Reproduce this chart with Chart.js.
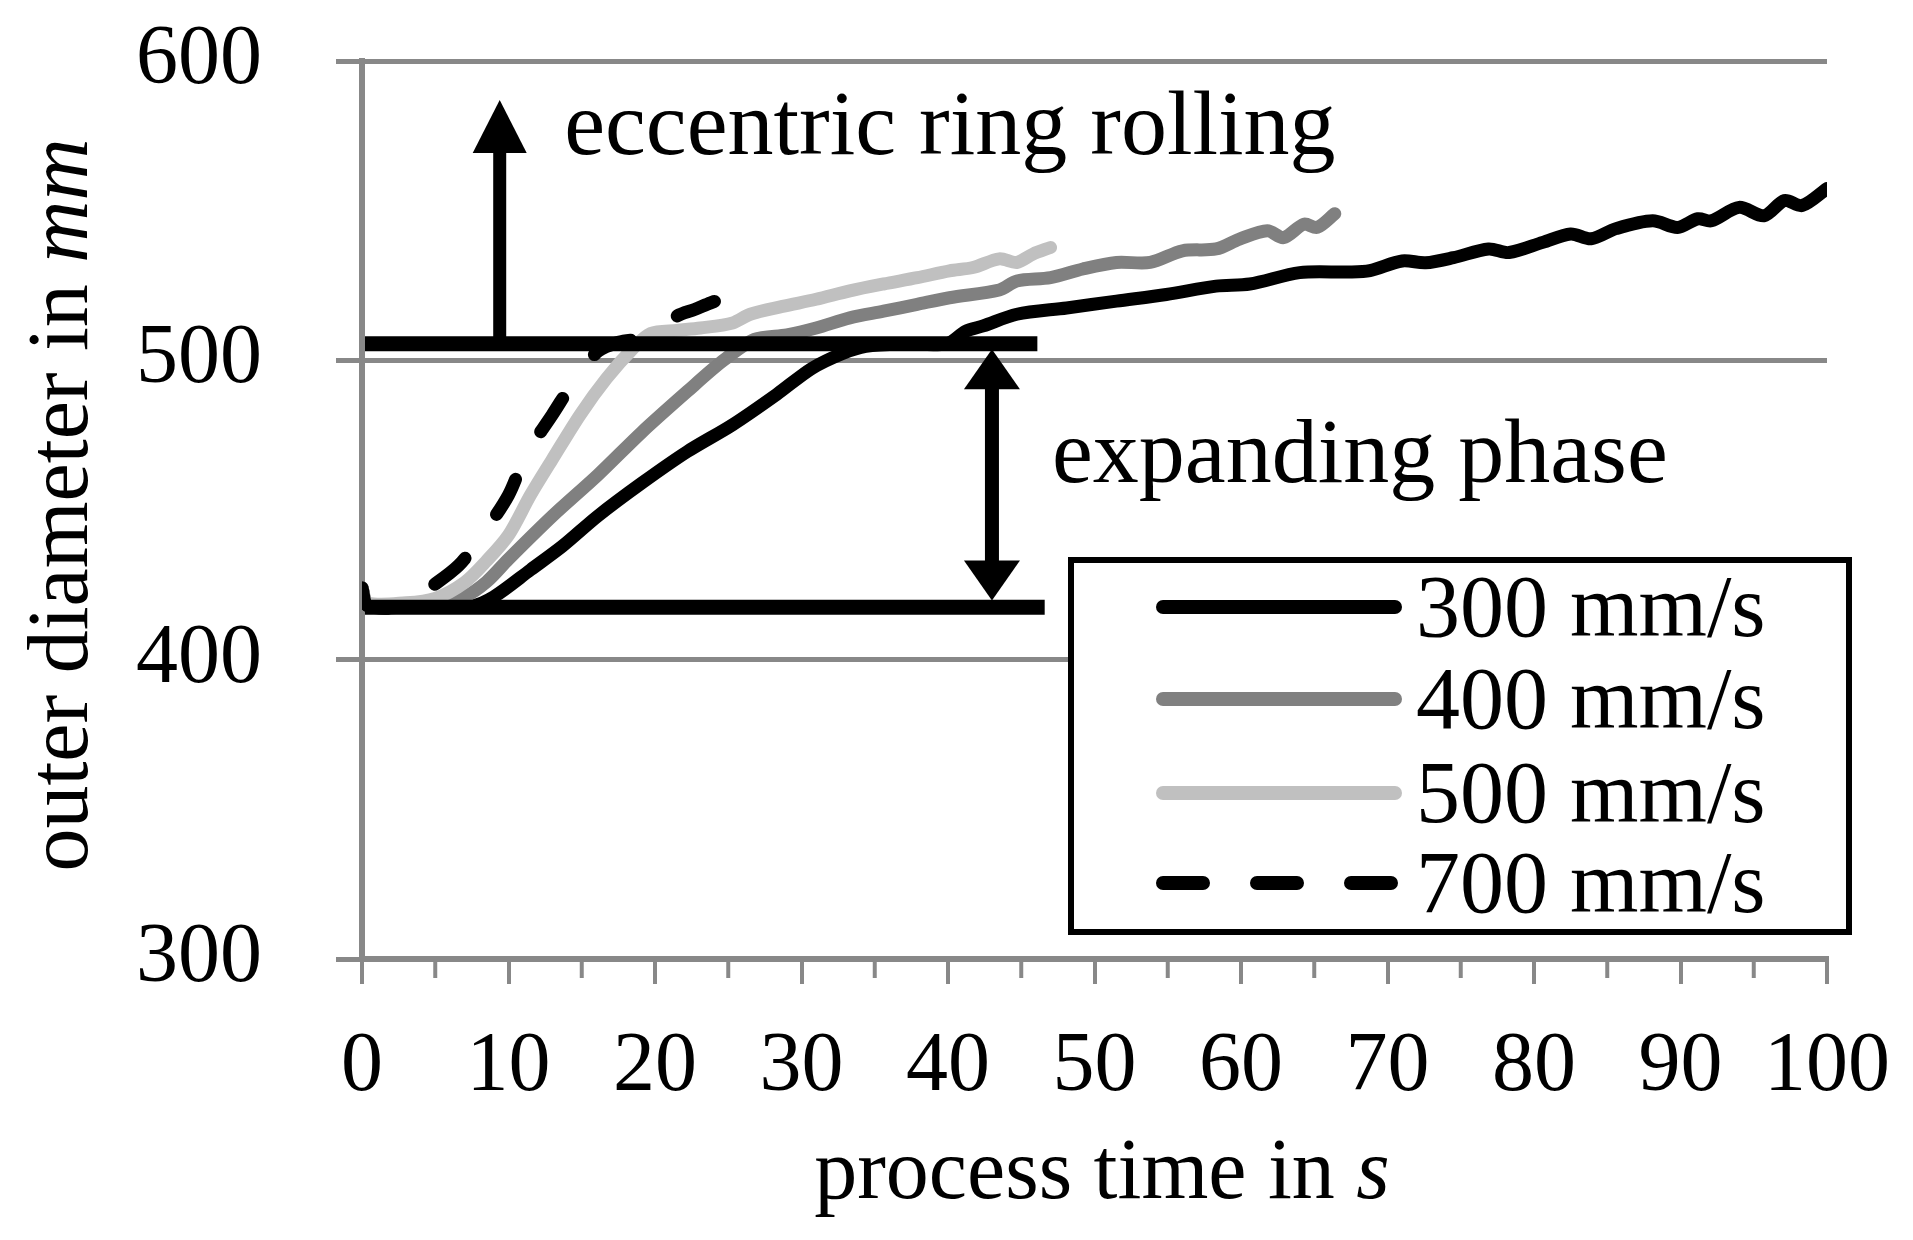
<!DOCTYPE html>
<html>
<head>
<meta charset="utf-8">
<script src="https://cdn.jsdelivr.net/npm/chart.js@4.4.1/dist/chart.umd.min.js"></script>
<style>
  html, body { margin: 0; padding: 0; background: #fff; }
  #wrap { width: 1913px; height: 1240px; position: relative; }
</style>
</head>
<body>
<div id="wrap"><canvas id="chart"></canvas></div>
<script>
// outer diameter vs. process time, four feed speeds
const time300 = [0, 0.4, 3, 7.5, 9, 11.5, 13.7, 16.1, 19.1, 22.2, 25.3, 28.3, 30.7, 32.8, 34.4, 37, 39.9, 41.2, 42.4, 44.7, 48.1, 51.5, 54.9, 58.3, 60.6, 64, 67.4, 68.8, 71, 72.6, 74.5, 76.9, 78.3, 80.6, 82.5, 83.9, 85.6, 88.1, 89.8, 91.2, 92.1, 94, 95.7, 97.1, 98.3, 100];
const diam300 = [424, 418, 417.5, 418, 421, 430, 438, 448, 459, 469.5, 478.5, 488.6, 497.3, 502.3, 504.7, 505.5, 505.5, 509.7, 511.5, 515.4, 517.5, 519.8, 522, 524.8, 525.5, 529.3, 529.5, 530, 533.2, 532.6, 534.3, 537.2, 536, 539.4, 542.2, 540.6, 544, 546.6, 544.4, 547.3, 546.6, 551.1, 548.3, 553.4, 551.7, 557.4];

const time400 = [0, 0.4, 3, 5.5, 7, 8.5, 10, 13, 16.1, 19.1, 22.2, 24.6, 26.8, 29, 31, 33.3, 35.6, 37.9, 40.1, 43.5, 44.7, 47, 49.2, 51.5, 53.8, 56, 58.3, 59.9, 61.8, 62.9, 64.3, 65.2, 66.4];
const diam400 = [424, 418.5, 418.5, 419, 421, 426, 433.6, 448, 461.7, 476, 489.6, 499.7, 507, 508.5, 510.8, 514.2, 516.4, 518.7, 520.9, 523.5, 526.5, 527.6, 530.5, 532.7, 532.7, 536.6, 537.2, 540.5, 543.3, 541, 545.5, 544.4, 549];

const time500 = [0, 0.4, 3, 5, 7, 8.5, 10, 11.5, 13, 14.9, 16.7, 18.5, 19.7, 21.5, 23.1, 25.3, 26.5, 28.7, 31, 33.3, 35.6, 37.9, 40.1, 41.7, 43.5, 44.7, 45.8, 47];
const diam500 = [424, 419, 419, 420.5, 425.8, 433, 441.6, 455, 467, 481.9, 494, 504, 509, 510, 510.8, 512.5, 515.4, 518, 520.4, 523.2, 525.5, 527.6, 529.9, 531, 533.9, 532.7, 535.5, 537.7];

const time700 = [0, 0.4, 3, 4.5, 6.6, 8.2, 10, 11.2, 13, 14.6, 16.1, 17.5, 19.7, 21.5, 22.7, 23.8, 26.3];
const diam700 = [424, 418, 418, 423.5, 431.5, 441.6, 455, 468.5, 481.9, 494, 503, 506, 508, 514.8, 517, 519.2, 523.8];

const seriesLabels = ["300 mm/s", "400 mm/s", "500 mm/s", "700 mm/s"];

// annotation values (data units)
const phaseBounds = [417.5, 505.5];      // start / end of expanding phase
const phaseLineEnds = [46.6, 46.1];      // where the two horizontal markers stop
const eccentricArrow = [9.4, 587];       // x, tip of the upward arrow
const phaseArrow = [43.0, 419.8, 503.7]; // x, lower tip, upper tip
const textEccentric = [13.8, 569];
const textPhase = [47.1, 459.4];

const SERIF = '"Liberation Serif", "Times New Roman", serif';
const GRID = "#888888";

const pts = (xs, ys) => xs.map((x, i) => ({ x, y: ys[i] }));

function lineSet(label, xs, ys, color, order, dash) {
  return {
    label, data: pts(xs, ys), order,
    borderColor: color, borderWidth: 13,
    borderCapStyle: "round", borderJoinStyle: "round",
    borderDash: dash || [], pointRadius: 0, tension: 0.3, fill: false,
  };
}

// arrows, marker lines, in-plot text, legend and the two mixed-style axis titles
const overlay = {
  id: "overlay",
  afterDatasetsDraw(chart) {
    const { ctx, scales: { x, y } } = chart;
    ctx.save();
    ctx.fillStyle = "#000";
    ctx.strokeStyle = "#000";
    ctx.lineCap = "butt";

    // horizontal markers
    ctx.lineWidth = 15;
    phaseBounds.forEach((v, i) => {
      const py = y.getPixelForValue(v);
      ctx.beginPath();
      ctx.moveTo(x.getPixelForValue(0) + 3, py);
      ctx.lineTo(x.getPixelForValue(phaseLineEnds[i]), py);
      ctx.stroke();
    });

    // upward arrow
    const ax = x.getPixelForValue(eccentricArrow[0]);
    const aTip = y.getPixelForValue(eccentricArrow[1]);
    const aBase = y.getPixelForValue(phaseBounds[1]);
    ctx.lineWidth = 13;
    ctx.beginPath(); ctx.moveTo(ax, aBase); ctx.lineTo(ax, aTip + 50); ctx.stroke();
    head(ctx, ax, aTip, 54, 53, 1);

    // double arrow
    const dx = x.getPixelForValue(phaseArrow[0]);
    const dLow = y.getPixelForValue(phaseArrow[1]);
    const dUp = y.getPixelForValue(phaseArrow[2]);
    ctx.lineWidth = 14;
    ctx.beginPath(); ctx.moveTo(dx, dUp + 36); ctx.lineTo(dx, dLow - 36); ctx.stroke();
    head(ctx, dx, dUp, 56, 40, 1);
    head(ctx, dx, dLow, 56, 40, -1);

    // text
    ctx.font = `92px ${SERIF}`;
    ctx.textAlign = "left";
    ctx.textBaseline = "alphabetic";
    ctx.fillText("eccentric ring rolling", x.getPixelForValue(textEccentric[0]), y.getPixelForValue(textEccentric[1]));
    ctx.fillText("expanding phase", x.getPixelForValue(textPhase[0]), y.getPixelForValue(textPhase[1]));
    ctx.restore();
  },
  afterDraw(chart) {
    const { ctx } = chart;
    ctx.save();
    // legend box
    ctx.fillStyle = "#fff";
    ctx.fillRect(1071, 560, 778, 372);
    ctx.lineWidth = 6;
    ctx.strokeStyle = "#000";
    ctx.strokeRect(1071, 560, 778, 372);
    const rows = [607, 699, 793, 883];
    chart.data.datasets.forEach((ds, i) => {
      ctx.beginPath();
      ctx.lineWidth = 14;
      ctx.lineCap = "round";
      ctx.strokeStyle = ds.borderColor;
      ctx.setLineDash(ds.borderDash);
      ctx.moveTo(1163, rows[i]);
      ctx.lineTo(1395, rows[i]);
      ctx.stroke();
      ctx.setLineDash([]);
      ctx.fillStyle = "#000";
      ctx.font = `88px ${SERIF}`;
      ctx.textBaseline = "alphabetic";
      ctx.textAlign = "left";
      ctx.fillText(ds.label, 1416, rows[i] + 29);
    });

    // axis titles with italic units
    mixedText(ctx, [["process time in ", ""], ["s", "italic "]], 1102, 1198, 0);
    mixedText(ctx, [["outer diameter in ", ""], ["mm", "italic "]], 87, 505, -Math.PI / 2);
    ctx.restore();
  },
};

function head(ctx, cx, tipY, w, h, dir) {
  // dir 1: pointing up, -1: pointing down
  ctx.beginPath();
  ctx.moveTo(cx, tipY);
  ctx.lineTo(cx - w / 2, tipY + dir * h);
  ctx.lineTo(cx + w / 2, tipY + dir * h);
  ctx.closePath();
  ctx.fill();
}

function mixedText(ctx, parts, cx, cy, rot) {
  ctx.save();
  ctx.translate(cx, cy);
  ctx.rotate(rot);
  ctx.fillStyle = "#000";
  ctx.textBaseline = "alphabetic";
  ctx.textAlign = "left";
  let total = 0;
  parts.forEach(([t, st]) => { ctx.font = `${st}86px ${SERIF}`; total += ctx.measureText(t).width; });
  let px = -total / 2;
  parts.forEach(([t, st]) => {
    ctx.font = `${st}86px ${SERIF}`;
    ctx.fillText(t, px, 0);
    px += ctx.measureText(t).width;
  });
  ctx.restore();
}

// minor ticks every 5 s on the time axis
const minorTicks = {
  id: "minorTicks",
  afterDraw(chart) {
    const { ctx, scales: { x, y } } = chart;
    const base = y.getPixelForValue(300);
    ctx.save();
    ctx.strokeStyle = GRID;
    ctx.lineWidth = 4;
    for (let v = 5; v < 100; v += 10) {
      const px = x.getPixelForValue(v);
      ctx.beginPath(); ctx.moveTo(px, base); ctx.lineTo(px, base + 19); ctx.stroke();
    }
    ctx.restore();
  },
};

// the plot frame is fixed by layout padding, not by label overhang
const noOverhang = (s) => { s.paddingTop = 0; s.paddingBottom = 0; s.paddingLeft = 0; s.paddingRight = 0; };

new Chart(document.getElementById("chart"), {
  type: "line",
  data: {
    datasets: [
      lineSet(seriesLabels[0], time300, diam300, "#000000", 4),
      lineSet(seriesLabels[1], time400, diam400, "#808080", 3),
      lineSet(seriesLabels[2], time500, diam500, "#c0c0c0", 2),
      lineSet(seriesLabels[3], time700, diam700, "#000000", 1, [40, 54]),
    ],
  },
  options: {
    responsive: true,
    maintainAspectRatio: false,
    animation: false,
    devicePixelRatio: 1,
    layout: { padding: { top: 61, right: 86, left: 0, bottom: 0 } },
    plugins: { legend: { display: false }, tooltip: { enabled: false } },
    scales: {
      x: {
        type: "linear", min: 0, max: 100,
        afterFit: (s) => { s.height = 281; noOverhang(s); },
        ticks: { stepSize: 10, autoSkip: false, maxRotation: 0, color: "#000", padding: 34, font: { family: SERIF, size: 84 } },
        grid: { drawOnChartArea: false, drawTicks: true, tickLength: 25, color: GRID, lineWidth: 4 },
        border: { display: true, color: GRID, width: 6 },
      },
      y: {
        min: 300, max: 600,
        afterFit: (s) => { s.width = 362; noOverhang(s); },
        ticks: { stepSize: 100, color: "#000", padding: 74, font: { family: SERIF, size: 84 } },
        grid: { color: GRID, lineWidth: 5, tickLength: 26 },
        border: { display: true, color: GRID, width: 6 },
      },
    },
  },
  plugins: [overlay, minorTicks],
});
</script>
</body>
</html>
